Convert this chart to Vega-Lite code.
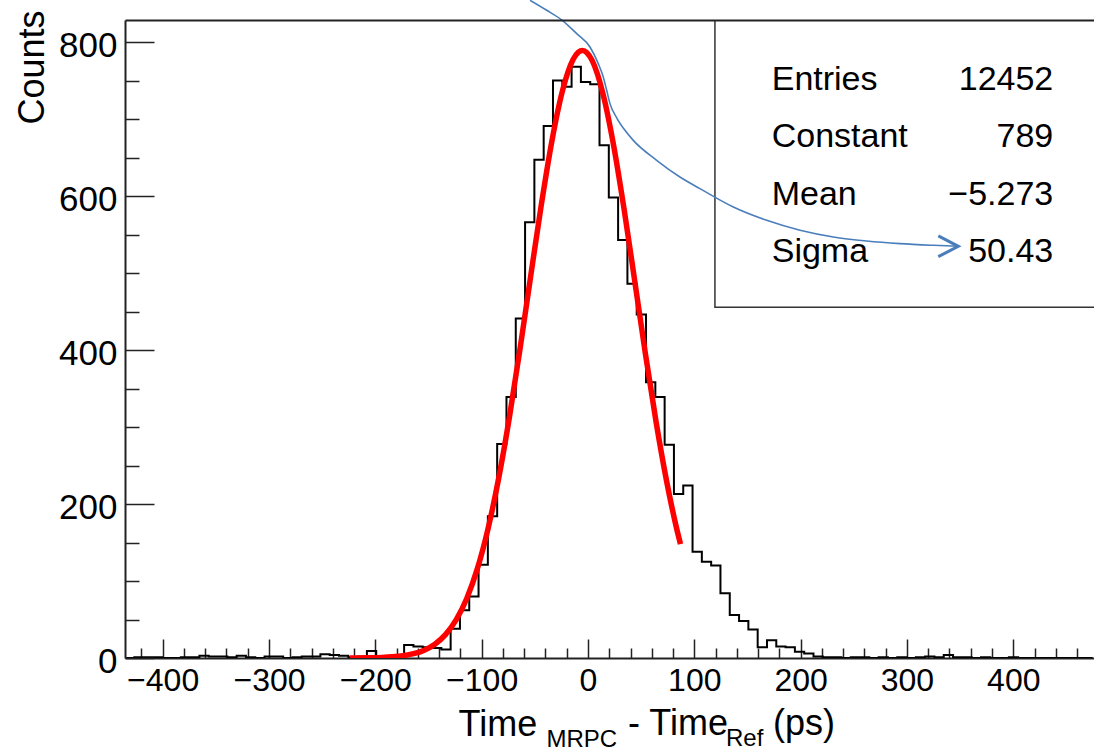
{
  "$schema": "https://vega.github.io/schema/vega-lite/v6.json",
  "width": 969,
  "height": 638,
  "autosize": {"type": "none"},
  "padding": {"left": 125, "top": 20, "right": 0, "bottom": 92},
  "background": "white",
  "config": {"view": {"stroke": null}, "font": "Liberation Sans", "axis": {"grid": false}},
  "datasets": {
    "hist": [
      {"t": -435.4, "count": 0}, {"t": -426.65, "count": 1}, {"t": -417.9, "count": 1}, {"t": -409.15, "count": 1},
      {"t": -400.4, "count": 0}, {"t": -391.65, "count": 0}, {"t": -382.9, "count": 1}, {"t": -374.15, "count": 1},
      {"t": -365.4, "count": 3}, {"t": -356.65, "count": 2}, {"t": -347.9, "count": 2}, {"t": -339.15, "count": 1},
      {"t": -330.4, "count": 3}, {"t": -321.65, "count": 1}, {"t": -312.9, "count": 0}, {"t": -304.15, "count": 2},
      {"t": -295.4, "count": 2}, {"t": -286.65, "count": 0}, {"t": -277.9, "count": 1}, {"t": -269.15, "count": 2},
      {"t": -260.4, "count": 2}, {"t": -251.65, "count": 5}, {"t": -242.9, "count": 4}, {"t": -234.15, "count": 3},
      {"t": -225.4, "count": 1}, {"t": -216.65, "count": 2}, {"t": -207.9, "count": 9}, {"t": -199.15, "count": 1},
      {"t": -190.4, "count": 2}, {"t": -181.65, "count": 3}, {"t": -172.9, "count": 17}, {"t": -164.15, "count": 15},
      {"t": -155.4, "count": 14}, {"t": -146.65, "count": 13}, {"t": -137.9, "count": 11}, {"t": -129.15, "count": 38},
      {"t": -120.4, "count": 62}, {"t": -111.65, "count": 80}, {"t": -102.9, "count": 121}, {"t": -94.15, "count": 184},
      {"t": -85.4, "count": 278}, {"t": -76.65, "count": 339}, {"t": -67.9, "count": 441}, {"t": -59.15, "count": 566},
      {"t": -50.4, "count": 647}, {"t": -41.65, "count": 691}, {"t": -32.9, "count": 750}, {"t": -24.15, "count": 742},
      {"t": -15.4, "count": 768}, {"t": -6.65, "count": 748}, {"t": 2.1, "count": 745}, {"t": 10.85, "count": 666},
      {"t": 19.6, "count": 598}, {"t": 28.35, "count": 543}, {"t": 37.1, "count": 486}, {"t": 45.85, "count": 446},
      {"t": 54.6, "count": 358}, {"t": 63.35, "count": 339}, {"t": 72.1, "count": 277}, {"t": 80.85, "count": 213},
      {"t": 89.6, "count": 224}, {"t": 98.35, "count": 138}, {"t": 107.1, "count": 125}, {"t": 115.85, "count": 120},
      {"t": 124.6, "count": 84}, {"t": 133.35, "count": 56}, {"t": 142.1, "count": 48}, {"t": 150.85, "count": 37},
      {"t": 159.6, "count": 14}, {"t": 168.35, "count": 23}, {"t": 177.1, "count": 15}, {"t": 185.85, "count": 14},
      {"t": 194.6, "count": 8}, {"t": 203.35, "count": 6}, {"t": 212.1, "count": 2}, {"t": 220.85, "count": 1},
      {"t": 229.6, "count": 1}, {"t": 238.35, "count": 0}, {"t": 247.1, "count": 1}, {"t": 255.85, "count": 1},
      {"t": 264.6, "count": 0}, {"t": 273.35, "count": 1}, {"t": 282.1, "count": 0}, {"t": 290.85, "count": 1},
      {"t": 299.6, "count": 0}, {"t": 308.35, "count": 1}, {"t": 317.1, "count": 2}, {"t": 325.85, "count": 1},
      {"t": 334.6, "count": 4}, {"t": 343.35, "count": 1}, {"t": 352.1, "count": 1}, {"t": 360.85, "count": 0},
      {"t": 369.6, "count": 1}, {"t": 378.35, "count": 0}, {"t": 387.1, "count": 0}, {"t": 395.85, "count": 1},
      {"t": 404.6, "count": 0}, {"t": 413.35, "count": 0}, {"t": 422.1, "count": 0}, {"t": 430.85, "count": 0},
      {"t": 439.6, "count": 0}, {"t": 448.35, "count": 0}, {"t": 457.1, "count": 0}, {"t": 465.85, "count": 0},
      {"t": 474.6, "count": 0}
    ],
    "fit": [
      {"t": -224, "count": 0.07}, {"t": -214, "count": 0.15}, {"t": -204, "count": 0.34}, {"t": -194, "count": 0.72},
      {"t": -184, "count": 1.48}, {"t": -174, "count": 2.93}, {"t": -164, "count": 5.57}, {"t": -154, "count": 10.19},
      {"t": -144, "count": 17.94}, {"t": -134, "count": 30.35}, {"t": -124, "count": 49.39}, {"t": -114, "count": 77.21},
      {"t": -104, "count": 116.1}, {"t": -94, "count": 167.8}, {"t": -84, "count": 233.3}, {"t": -74, "count": 311.7},
      {"t": -64, "count": 400.5}, {"t": -54, "count": 494.7}, {"t": -44, "count": 587.5}, {"t": -34, "count": 670.9},
      {"t": -24, "count": 736.5}, {"t": -14, "count": 777.2}, {"t": -9, "count": 786.8}, {"t": -5.27, "count": 789},
      {"t": -1, "count": 786.2}, {"t": 4, "count": 775.8}, {"t": 14, "count": 733.4}, {"t": 24, "count": 666.7},
      {"t": 34, "count": 582.6}, {"t": 44, "count": 489.5}, {"t": 54, "count": 395.4}, {"t": 64, "count": 307.2},
      {"t": 74, "count": 229.4}, {"t": 84, "count": 164.6}, {"t": 87, "count": 147.9}
    ],
    "arrow": [
      {"t": -54.5, "count": 854.2}, {"t": -38.8, "count": 841.2}, {"t": -24.2, "count": 828.2}, {"t": -10.6, "count": 810.9},
      {"t": 1.9, "count": 793.5}, {"t": 9.7, "count": 771.9}, {"t": 14.4, "count": 754.5}, {"t": 17.6, "count": 737.3},
      {"t": 20.7, "count": 720.0}, {"t": 27.0, "count": 701.6}, {"t": 34.8, "count": 685.3}, {"t": 42.6, "count": 672.3},
      {"t": 64.6, "count": 646.4}, {"t": 86.5, "count": 624.7}, {"t": 105.3, "count": 609.6}, {"t": 136.7, "count": 585.7},
      {"t": 168.1, "count": 568.4}, {"t": 199.4, "count": 555.5}, {"t": 230.7, "count": 546.8}, {"t": 262.1, "count": 541.6},
      {"t": 293.4, "count": 538.2}, {"t": 324.7, "count": 536.0}, {"t": 348.3, "count": 534.7}
    ],
    "stats": [
      {"names": ["Entries", "Constant", "Mean", "Sigma"], "values": ["12452", "789", "−5.273", "50.43"]}
    ]
  },
  "resolve": {"axis": {"x": "independent", "y": "independent"}},
  "layer": [
    {
      "data": {"values": [{}]},
      "mark": {"type": "rect", "fill": "white", "stroke": "#333333", "strokeWidth": 1.5, "clip": true},
      "encoding": {
        "x": {"datum": 119.4, "type": "quantitative", "scale": {"domain": [-435.4, 475.9]},
          "axis": {"orient": "top", "zindex": 2, "domain": true, "domainColor": "#222222", "domainWidth": 2, "ticks": false, "labels": false, "grid": false,
            "title": "MRPC", "titleFont": "Liberation Sans", "titleFontSize": 24, "titleFontWeight": "normal", "titleColor": "black",
            "titleAlign": "left", "titleBaseline": "alphabetic", "titleX": 421, "titleY": 726}},
        "x2": {"datum": 520},
        "y": {"datum": 455.5, "type": "quantitative", "scale": {"domain": [0, 828.6]},
          "axis": {"orient": "left", "zindex": 2,
            "values": [0, 50, 100, 150, 200, 250, 300, 350, 400, 450, 500, 550, 600, 650, 700, 750, 800],
            "labelExpr": "datum.value % 200 === 0 ? datum.label : ''",
            "tickSize": {"condition": {"test": "datum.value % 200 === 0", "value": -29}, "value": -14},
            "tickColor": "#222222", "tickWidth": 1.5, "domainColor": "#222222", "domainWidth": 2,
            "labelFont": "Liberation Sans", "labelFontSize": 35, "labelColor": "black", "labelPadding": 37, "labelOffset": 3,
            "labelFlush": false, "labelOverlap": false,
            "title": "Counts", "titleFont": "Liberation Sans", "titleFontSize": 36, "titleFontWeight": "normal", "titleColor": "black",
            "titleAngle": 270, "titleAlign": "right", "titleBaseline": "alphabetic", "titleX": -82, "titleY": -10}},
        "y2": {"datum": 900}
      }
    },
    {
      "data": {"name": "hist"},
      "mark": {"type": "line", "interpolate": "step-after", "color": "black", "strokeWidth": 2, "clip": true},
      "encoding": {
        "x": {"field": "t", "type": "quantitative", "scale": {"domain": [-435.4, 475.9]},
          "axis": {"orient": "bottom",
            "values": [-420, -400, -380, -360, -340, -320, -300, -280, -260, -240, -220, -200, -180, -160, -140, -120, -100, -80, -60, -40, -20, 0, 20, 40, 60, 80, 100, 120, 140, 160, 180, 200, 220, 240, 260, 280, 300, 320, 340, 360, 380, 400, 420, 440, 460],
            "labelExpr": "datum.value % 100 === 0 ? datum.label : ''",
            "tickSize": {"condition": {"test": "datum.value % 100 === 0", "value": -19}, "value": -10},
            "tickColor": "#222222", "tickWidth": 1.5, "domainColor": "#222222", "domainWidth": 2,
            "labelFont": "Liberation Sans", "labelFontSize": 32, "labelColor": "black", "labelPadding": 26,
            "labelFlush": false, "labelOverlap": false,
            "title": "Time", "titleFont": "Liberation Sans", "titleFontSize": 36, "titleFontWeight": "normal", "titleColor": "black",
            "titleAlign": "left", "titleBaseline": "alphabetic", "titleX": 333, "titleY": 77}},
        "y": {"field": "count", "type": "quantitative", "scale": {"domain": [0, 828.6]}, "axis": null}
      }
    },
    {
      "data": {"name": "fit"},
      "mark": {"type": "line", "color": "#ff0000", "strokeWidth": 5.5, "interpolate": "monotone", "clip": true},
      "encoding": {
        "x": {"field": "t", "type": "quantitative", "scale": {"domain": [-435.4, 475.9]}, "axis": null},
        "y": {"field": "count", "type": "quantitative", "scale": {"domain": [0, 828.6]}, "axis": null}
      }
    },
    {
      "data": {"name": "arrow"},
      "mark": {"type": "line", "color": "#4a7ebb", "strokeWidth": 1.6, "interpolate": "monotone", "clip": false},
      "encoding": {
        "x": {"field": "t", "type": "quantitative", "scale": {"domain": [-435.4, 475.9]}, "axis": null},
        "y": {"field": "count", "type": "quantitative", "scale": {"domain": [0, 828.6]}, "axis": null}
      }
    },
    {
      "data": {"values": [{}]},
      "mark": {"type": "point", "shape": "M -1 -0.52 L 0 0 L -1 0.52", "size": 1600, "filled": false, "stroke": "#4a7ebb", "strokeWidth": 3, "opacity": 1, "strokeJoin": "miter"},
      "encoding": {
        "x": {"datum": 348.3, "type": "quantitative", "scale": {"domain": [-435.4, 475.9]}, "axis": null},
        "y": {"datum": 534.7, "type": "quantitative", "scale": {"domain": [0, 828.6]}, "axis": null}
      }
    },
    {
      "data": {"values": [{}]},
      "mark": {"type": "text", "align": "left", "baseline": "alphabetic", "fontSize": 36, "font": "Liberation Sans", "color": "black", "clip": false},
      "encoding": {
        "x": {"datum": 37.6, "type": "quantitative", "scale": {"domain": [-435.4, 475.9]}, "axis": null},
        "y": {"datum": -100.4, "type": "quantitative", "scale": {"domain": [0, 828.6]}, "axis": null},
        "text": {"value": "- Time"}
      }
    },
    {
      "data": {"values": [{}]},
      "mark": {"type": "text", "align": "left", "baseline": "alphabetic", "fontSize": 24, "font": "Liberation Sans", "color": "black", "clip": false},
      "encoding": {
        "x": {"datum": 129.8, "type": "quantitative", "scale": {"domain": [-435.4, 475.9]}, "axis": null},
        "y": {"datum": -114.7, "type": "quantitative", "scale": {"domain": [0, 828.6]}, "axis": null},
        "text": {"value": "Ref"}
      }
    },
    {
      "data": {"values": [{}]},
      "mark": {"type": "text", "align": "left", "baseline": "alphabetic", "fontSize": 36, "font": "Liberation Sans", "color": "black", "clip": false},
      "encoding": {
        "x": {"datum": 174.0, "type": "quantitative", "scale": {"domain": [-435.4, 475.9]}, "axis": null},
        "y": {"datum": -100.4, "type": "quantitative", "scale": {"domain": [0, 828.6]}, "axis": null},
        "text": {"value": "(ps)"}
      }
    },
    {
      "data": {"name": "stats"},
      "mark": {"type": "text", "align": "left", "baseline": "alphabetic", "fontSize": 34, "lineHeight": 57.3, "font": "Liberation Sans", "color": "black"},
      "encoding": {
        "x": {"datum": 172.8, "type": "quantitative", "scale": {"domain": [-435.4, 475.9]}, "axis": null},
        "y": {"datum": 737.7, "type": "quantitative", "scale": {"domain": [0, 828.6]}, "axis": null},
        "text": {"field": "names"}
      }
    },
    {
      "data": {"name": "stats"},
      "mark": {"type": "text", "align": "right", "baseline": "alphabetic", "fontSize": 34, "lineHeight": 57.3, "font": "Liberation Sans", "color": "black"},
      "encoding": {
        "x": {"datum": 437.6, "type": "quantitative", "scale": {"domain": [-435.4, 475.9]}, "axis": null},
        "y": {"datum": 737.7, "type": "quantitative", "scale": {"domain": [0, 828.6]}, "axis": null},
        "text": {"field": "values"}
      }
    }
  ]
}
